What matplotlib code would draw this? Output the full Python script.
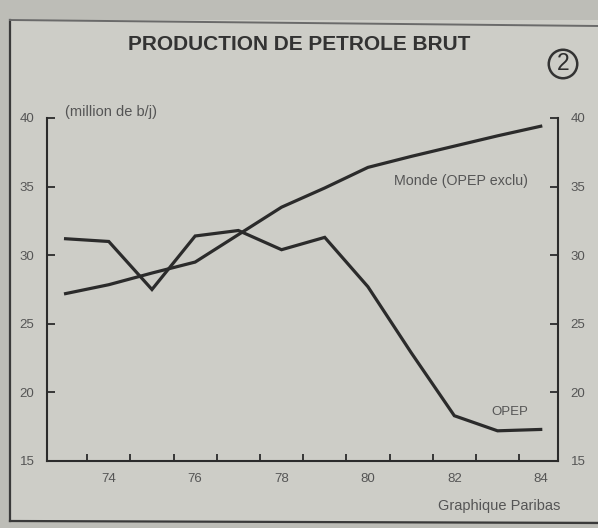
import matplotlib
matplotlib.use("Agg")
import matplotlib.pyplot as plt
from matplotlib.lines import Line2D
from matplotlib.patches import Rectangle

# ---- data ----
years = [73, 74, 75, 76, 77, 78, 79, 80, 81, 82, 83, 84]
opep = [31.2, 31.0, 27.5, 31.4, 31.8, 30.4, 31.3, 27.7, 22.9, 18.3, 17.2, 17.3]
monde = [27.2, 27.85, 28.7, 29.5, 31.5, 33.5, 34.9, 36.4, 37.2, 37.95, 38.7, 39.4]
xtick_labels = ["74", "76", "78", "80", "82", "84"]
xtick_pos = [74, 76, 78, 80, 82, 84]
ytick_vals = [15, 20, 25, 30, 35, 40]
title = "PRODUCTION DE PETROLE BRUT"
unit_label = "(million de b/j)"
monde_label = "Monde (OPEP exclu)"
opep_label = "OPEP"
source = "Graphique Paribas"

W, H = 598, 528
plt.rcParams['font.family'] = ["Liberation Sans", "DejaVu Sans"]
ink = "#2b2b2b"
txt = "#555555"

fig = plt.figure(figsize=(W / 100, H / 100), dpi=100)
fig.patch.set_facecolor("#bdbdb7")

def fx(px):
    return px / W

def fy(py):
    return 1 - py / H

# paper inside the frame
fig.add_artist(Rectangle((fx(10), fy(521)), fx(W) - fx(10), fy(20) - fy(521),
                         transform=fig.transFigure, facecolor="#cdcdc7",
                         edgecolor="none", zorder=0))
# frame lines
fig.add_artist(Line2D([fx(10), fx(10)], [fy(20), fy(521)], color="#3a3a3a", lw=1.6))
fig.add_artist(Line2D([fx(10), fx(W)], [fy(20), fy(26)], color="#6a6a6a", lw=1.4))
fig.add_artist(Line2D([fx(10), fx(W)], [fy(521), fy(523)], color="#3a3a3a", lw=1.6))

ax = fig.add_axes([fx(47), fy(461), fx(558) - fx(47), fy(118) - fy(461)])
ax.set_facecolor("none")
ax.plot(years, opep, color=ink, lw=2.3, solid_joinstyle="miter", zorder=3)
ax.plot(years, monde, color=ink, lw=2.3, solid_joinstyle="miter", zorder=3)

ax.set_xlim(72.57, 84.40)
ax.set_ylim(15, 40)

for s in ["top", "right"]:
    ax.spines[s].set_visible(False)
for s in ["left", "bottom"]:
    ax.spines[s].set_color(ink)
    ax.spines[s].set_linewidth(1.5)

ax.set_xticks(xtick_pos)
ax.set_xticklabels(xtick_labels)
ax.set_xticks([y + 0.5 for y in years[:-1]], minor=True)
ax.tick_params(axis="x", which="major", length=0, pad=9, labelsize=9.5, labelcolor=txt)
ax.tick_params(axis="x", which="minor", direction="in", length=5, width=1.3, color=ink)

ax.set_yticks(ytick_vals)
ax.set_yticklabels([str(v) for v in ytick_vals])
ax.tick_params(axis="y", direction="in", length=6, width=1.3, color=ink,
               pad=9, labelsize=9.5, labelcolor=txt)

ax2 = ax.twinx()
ax2.set_ylim(15, 40)
ax2.set_yticks(ytick_vals)
ax2.set_yticklabels([str(v) for v in ytick_vals])
for s in ["top", "left", "bottom"]:
    ax2.spines[s].set_visible(False)
ax2.spines["right"].set_color(ink)
ax2.spines["right"].set_linewidth(1.5)
ax2.tick_params(axis="y", direction="in", length=6, width=1.3, color=ink,
                pad=9, labelsize=9.5, labelcolor=txt)

# texts
fig.text(fx(299), fy(45), title, ha="center", va="center", fontsize=15,
         color="#333333", fontweight="bold")
fig.text(fx(563), fy(64), "2", ha="center", va="center", fontsize=16.5,
         color="#2e2e2e",
         bbox=dict(boxstyle="circle,pad=0.12", facecolor="none",
                   edgecolor="#333333", lw=1.8))
fig.text(fx(65), fy(112), unit_label, ha="left", va="center", fontsize=10.5, color=txt)
ax.text(83.71, 35.4, monde_label, ha="right", va="center", fontsize=10.3, color=txt)
ax.text(83.29, 18.6, opep_label, ha="center", va="center", fontsize=9.5, color=txt)
fig.text(fx(560), fy(506), source, ha="right", va="center", fontsize=10.5, color=txt)

fig.savefig("out.png", dpi=100, facecolor=fig.get_facecolor())
